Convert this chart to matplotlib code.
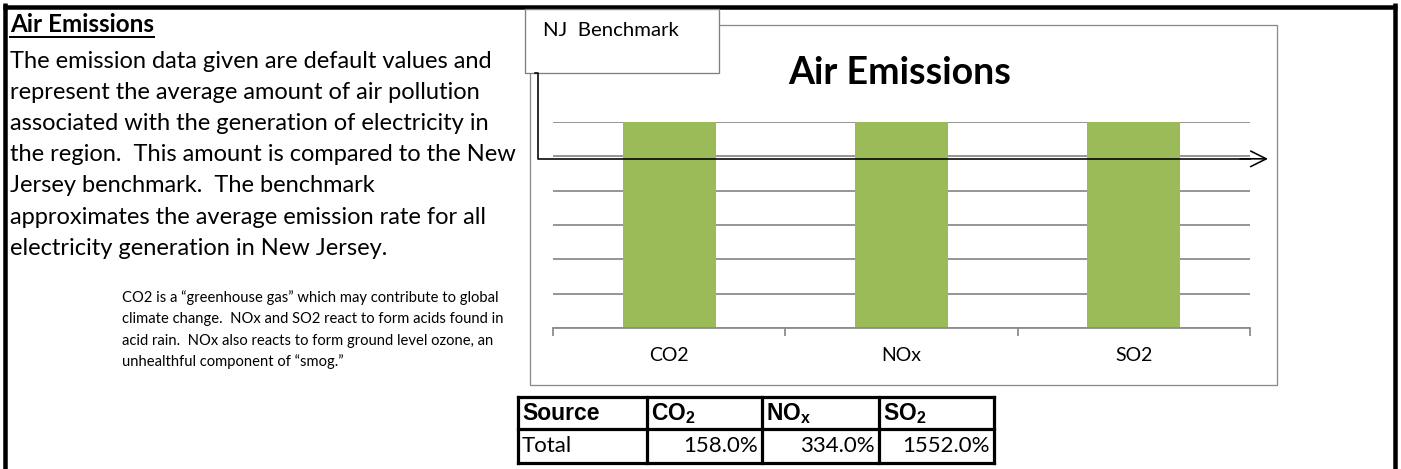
import matplotlib
matplotlib.use("Agg")
import matplotlib.pyplot as plt
from matplotlib.patches import Rectangle

plt.rcParams.update({
    "font.family": ["Lato", "DejaVu Sans"],
    "mathtext.fontset": "custom",
    "mathtext.rm": "Liberation Sans",
    "mathtext.bf": "Liberation Sans:bold",
})

W, H, DPI = 1401, 469, 100

# ---- data ---------------------------------------------------------------
categories = ["CO2", "NOx", "SO2"]
pct_of_benchmark = [158.0, 334.0, 1552.0]     # region vs NJ benchmark, %
benchmark_pct = 100.0
axis_max_pct = 120.0                           # chart axis is capped here
grid_step_pct = 20.0

table_header = ["Source", r"$\mathbf{CO_2}$", r"$\mathbf{NO_x}$", r"$\mathbf{SO_2}$"]
table_row_label = "Total"

body_lines = [
    "The emission data given are default values and",
    "represent the average amount of air pollution",
    "associated with the generation of electricity in",
    "the region.  This amount is compared to the New",
    "Jersey benchmark.  The benchmark",
    "approximates the average emission rate for all",
    "electricity generation in New Jersey.",
]
note_lines = [
    "CO2 is a \u201cgreenhouse gas\u201d which may contribute to global",
    "climate change.  NOx and SO2 react to form acids found in",
    "acid rain.  NOx also reacts to form ground level ozone, an",
    "unhealthful component of \u201csmog.\u201d",
]

GREEN = "#9BBB59"
GRID = "#8C8C8C"
FRAME = "#8A8A8A"

fig = plt.figure(figsize=(W / DPI, H / DPI), dpi=DPI)
px = 72.0 / DPI   # one pixel in points


def fig_box(x0, y0, x1, y1):
    """pixel box (top-left origin) -> figure fraction rect"""
    return [x0 / W, 1 - y1 / H, (x1 - x0) / W, (y1 - y0) / H]


# ---- bar chart ----------------------------------------------------------
ax = fig.add_axes(fig_box(553, 122, 1250, 328))
ax.set_facecolor("none")
xs = list(range(len(categories)))
ax.bar(xs, pct_of_benchmark, width=0.4, color=GREEN, zorder=2)
ax.set_xlim(-0.5, len(categories) - 0.5)
ax.set_ylim(0, axis_max_pct)

yt = [grid_step_pct * i for i in range(int(axis_max_pct / grid_step_pct) + 1)]
ax.set_yticks(yt)
ax.tick_params(axis="y", length=0, labelleft=False)
ax.yaxis.grid(True, color=GRID, linewidth=1.3)
ax.set_axisbelow(True)

ax.set_xticks([i - 0.5 for i in range(len(categories) + 1)])
ax.set_xticklabels([])
ax.set_xticks(xs, minor=True)
ax.set_xticklabels(categories, minor=True, fontsize=14)
ax.tick_params(axis="x", which="major", direction="out", length=6,
               width=1.3, color=GRID)
ax.tick_params(axis="x", which="minor", length=0, pad=14)
for s in ["top", "right", "left"]:
    ax.spines[s].set_visible(False)
ax.spines["bottom"].set_color(GRID)
ax.spines["bottom"].set_linewidth(1.3)

# ---- page overlay (pixel coords, y down) --------------------------------
ov = fig.add_axes([0, 0, 1, 1], zorder=5)
ov.set_xlim(0, W)
ov.set_ylim(H, 0)
ov.axis("off")

# page border
bw = 4.5 * px
ov.plot([5, 5], [3, H], color="black", lw=bw, solid_capstyle="butt")
ov.plot([1394.5, 1394.5], [3, H], color="black", lw=bw, solid_capstyle="butt")
ov.plot([3, 1397], [7, 7], color="black", lw=bw, solid_capstyle="butt")

# left text column
head = ov.text(10, 25, "Air Emissions", fontsize=17.5, fontweight="bold",
               va="center", ha="left")
for i, line in enumerate(body_lines):
    ov.text(10, 61 + i * 31.2, line, fontsize=17, va="center", ha="left")
for i, line in enumerate(note_lines):
    ov.text(122, 298 + i * 21.3, line, fontsize=10.6, va="center", ha="left")

# underline the heading to the width it actually renders at
fig.canvas.draw()
bb = head.get_window_extent(fig.canvas.get_renderer())
ov.plot([10, 10 + bb.width], [37.5, 37.5], color="black", lw=2 * px)

# chart frame + title
ov.add_patch(Rectangle((530, 25), 747, 360, fill=False, ec=FRAME, lw=1.3 * px))
ov.text(900, 73, "Air Emissions", fontsize=27, fontweight="bold",
        ha="center", va="center")

# benchmark callout box and elbow arrow
ov.add_patch(Rectangle((525, 9), 194, 64, fc="white", ec="#7F7F7F",
                       lw=1.3 * px, zorder=3))
ov.text(543, 31, "NJ  Benchmark", fontsize=14.7, va="center", ha="left", zorder=4)

bench_y = H - ax.transData.transform((0, benchmark_pct))[1] + 2.5
ov.plot([535, 538, 538, 1250], [73, 73, bench_y, bench_y], color="black",
        lw=1.6 * px, zorder=4)
ov.annotate("", xy=(1268, bench_y), xytext=(1240, bench_y),
            arrowprops=dict(arrowstyle="->", lw=1.6 * px, color="black",
                            mutation_scale=28, shrinkA=0, shrinkB=0), zorder=4)

# summary table
col_x = [518, 647, 762, 879, 994]
row_y = [397, 429, 463]
tw = 3.2 * px
for cx in col_x:
    ov.plot([cx, cx], [row_y[0], row_y[-1]], color="black", lw=tw,
            solid_capstyle="projecting")
for ry in row_y:
    ov.plot([col_x[0], col_x[-1]], [ry, ry], color="black", lw=tw,
            solid_capstyle="projecting")

for j, lab in enumerate(table_header):
    ov.text(col_x[j] + 4, (row_y[0] + row_y[1]) / 2 + 1, lab, fontsize=16.5,
            fontweight="bold", family="Liberation Sans", va="center", ha="left")
mid2 = (row_y[1] + row_y[2]) / 2
ov.text(col_x[0] + 4, mid2, table_row_label, fontsize=16, va="center", ha="left")
for j, v in enumerate(pct_of_benchmark):
    ov.text(col_x[j + 2] - 4, mid2, f"{v:.1f}%", fontsize=16,
            va="center", ha="right")

fig.savefig("out.png", dpi=DPI)
